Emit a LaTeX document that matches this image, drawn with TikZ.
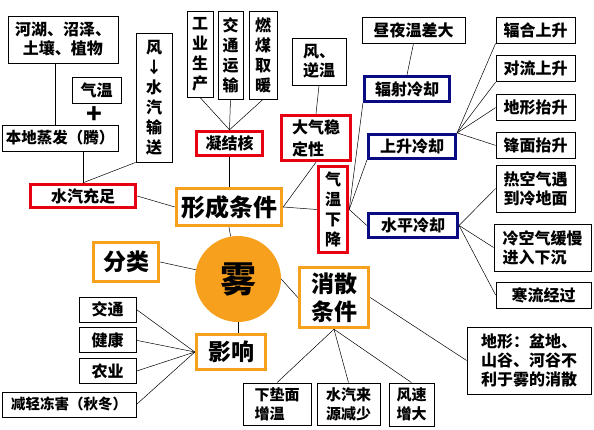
\documentclass[tikz,border=0pt]{standalone}
\usepackage{fontspec}
\setmainfont{Noto Sans CJK SC}
\usetikzlibrary{positioning}
\definecolor{fogred}{HTML}{E60012}
\definecolor{fognavy}{HTML}{0A0A82}
\definecolor{fogorange}{HTML}{F7A01E}

\begin{document}
\begin{tikzpicture}[
    x=1pt,y=-1pt,
    node distance=12pt and 12pt,
    every node/.append style={font=\bfseries},
    plainbox/.style={rectangle,draw=black,line width=0.8pt,fill=white,align=center,
      inner sep=1pt,font=\fontsize{16}{19}\selectfont\bfseries},
    redbox/.style={plainbox,draw=fogred,line width=3.4pt},
    bluebox/.style={plainbox,draw=fognavy,line width=3.2pt},
    orangebox/.style={plainbox,draw=fogorange,line width=3.4pt,font=\fontsize{23}{28}\selectfont\bfseries},
    colbox/.style={plainbox,font=\fontsize{16}{20}\selectfont\bfseries},
    lowbox/.style={plainbox,align=left,font=\fontsize{15}{19}\selectfont\bfseries},
    boxsize/.style 2 args={minimum width=#1,minimum height=#2},
    link/.style={black,line width=0.5pt},
  ]
  \useasboundingbox[fill=white] (0,0) rectangle (594,430);
  \node[plainbox,boxsize={110pt}{47pt}] (hupo) at (63,39.5) {河湖、沼泽、\\土壤、植物};
  \node[plainbox,boxsize={49pt}{26pt}] (qiwen) at (96.5,90) {气温};
  \node[font=\fontsize{26}{26}\selectfont\bfseries,inner sep=0pt] (plus) at (94,115) {+};
  \node[plainbox,boxsize={116pt}{26pt},font=\fontsize{15.5}{19}\selectfont\bfseries] (zhengfa) at (60,138) {本地蒸发（腾）};
  \node[colbox,boxsize={36pt}{129pt}] (feng) at (154,97.5) {风\\↓\\水\\汽\\输\\送};
  \node[redbox,boxsize={105pt}{23pt}] (shuiqi) at (83,196) {水汽充足};
  \node[colbox,boxsize={26pt}{86pt}] (gongye) at (200,54) {工\\业\\生\\产};
  \node[colbox,boxsize={25pt}{88pt}] (jiaotong) at (230.5,55) {交\\通\\运\\输};
  \node[colbox,boxsize={28pt}{88pt}] (ranmei) at (263,55) {燃\\煤\\取\\暖};
  \node[redbox,boxsize={66pt}{24pt}] (nijie) at (229.5,143.5) {凝结核};
  \node[plainbox,boxsize={54pt}{47pt}] (fengni) at (319,61.5) {风、\\逆温};
  \node[redbox,boxsize={69pt}{45pt},align=left,font=\fontsize{16}{22}\selectfont\bfseries] (wending) at (316,138) {大气稳\\定性};
  \node[redbox,boxsize={29pt}{86pt},font=\fontsize{16}{20}\selectfont\bfseries] (xiajiang) at (333,209.5) {气\\温\\下\\降};
  \node[orangebox,boxsize={105pt}{37pt},font=\fontsize{24}{28}\selectfont\bfseries] (xingcheng) at (229,207) {形成条件};
  \node[circle,fill=fogorange,minimum size=86pt,inner sep=0pt,font=\fontsize{36}{36}\selectfont\bfseries] (wu) at (238,279) {雾};
  \node[orangebox,boxsize={65pt}{39pt}] (fenlei) at (126,262) {分类};
  \node[orangebox,boxsize={69pt}{35pt}] (yingxiang) at (231,352) {影响};
  \node[plainbox,boxsize={57pt}{25pt}] (jt) at (107.5,309.5) {交通};
  \node[plainbox,boxsize={57pt}{25pt},below=5pt of jt] (jk) {健康};
  \node[plainbox,boxsize={57pt}{25pt},below=5pt of jk] (ny) {农业};
  \node[plainbox,boxsize={134pt}{25pt},font=\fontsize{14.5}{19}\selectfont\bfseries] (jq) at (69,404.5) {减轻冻害（秋冬）};
  \node[orangebox,boxsize={69pt}{60pt}] (xiaosan) at (334,297.5) {消散\\条件};
  \node[lowbox,boxsize={68pt}{42pt}] (xdm) at (277,404) {下垫面\\增温};
  \node[lowbox,boxsize={63pt}{42pt}] (sq) at (348.5,404) {水汽来\\源减少};
  \node[lowbox,boxsize={45pt}{43pt}] (fs) at (411.5,404.5) {风速\\增大};
  \node[plainbox,boxsize={124pt}{67pt},align=left] (dx) at (529,360.5) {地形：盆地、\\山谷、河谷不\\利于雾的消散};
  \node[plainbox,boxsize={103pt}{26pt}] (zhouye) at (413.5,30) {昼夜温差大};
  \node[bluebox,boxsize={85pt}{25pt}] (fushe) at (407,89) {辐射冷却};
  \node[bluebox,boxsize={87pt}{24pt}] (shangsheng) at (412,146.5) {上升冷却};
  \node[bluebox,boxsize={89pt}{24pt}] (shuiping) at (413,225.5) {水平冷却};
  \node[plainbox,boxsize={79pt}{26pt}] (fh) at (535.5,30) {辐合上升};
  \node[plainbox,boxsize={79pt}{26pt},below=of fh] (dl) {对流上升};
  \node[plainbox,boxsize={79pt}{26pt},below=of dl] (dxts) {地形抬升};
  \node[plainbox,boxsize={79pt}{26pt},below=11pt of dxts] (fm) {锋面抬升};
  \node[plainbox,boxsize={79pt}{47pt}] (rkq) at (535.5,188.5) {热空气遇\\到冷地面};
  \node[plainbox,boxsize={97pt}{47pt},align=left] (lkq) at (542.5,247.5) {冷空气缓慢\\进入下沉};
  \node[plainbox,boxsize={95pt}{26pt}] (hl) at (543.5,295) {寒流经过};
  \draw[link] ([xshift=-8pt]hupo.south) -- ([xshift=-8pt]hupo.south |- zhengfa.north);
  \draw[link] (shuiqi.north |- zhengfa.south) -- (shuiqi.north);
  \draw[link] (feng.south west) -- (shuiqi.north);
  \draw[link] (shuiqi.east) -- (xingcheng.west);
  \draw[link] (gongye.south) -- (nijie.north);
  \draw[link] (jiaotong.south) -- (nijie.north);
  \draw[link] (ranmei.south) -- (nijie.north);
  \draw[link] (nijie.south) -- (xingcheng.north -| nijie.south);
  \draw[link] (fengni.south) -- (wending.north);
  \draw[link] (wending.south) -- (xingcheng.east);
  \draw[link] (xingcheng.east) -- (xiajiang.west);
  \draw[link] (xingcheng.south) -- (wu);
  \draw[link] (fenlei.east) -- (wu);
  \draw[link] (wu.south) -- (wu.south |- yingxiang.north);
  \draw[link] (wu.east) -- (xiaosan.west);
  \foreach \side in {jt,jk,ny,jq}
    \draw[link] (\side.east) -- (yingxiang.west);
  \foreach \low in {xdm,sq,fs}
    \draw[link] (xiaosan.south) -- (\low.north);
  \draw[link] (xiaosan.east) -- (dx.west);
  \draw[link] (xiajiang.east) -- (fushe.south west);
  \draw[link] (xiajiang.east) -- (shangsheng.south west);
  \draw[link] (xiajiang.east) -- (shuiping.west);
  \draw[link] (zhouye.south) -- (fushe.north);
  \draw[link] (shangsheng.north east) -- (fh.south west);
  \draw[link] (shangsheng.north east) -- (dl.south west);
  \draw[link] (shangsheng.north east) -- (dxts.west);
  \draw[link] (shangsheng.north east) -- (fm.west);
  \draw[link] (shuiping.east) -- (rkq.west);
  \draw[link] (shuiping.east) -- (lkq.west);
  \draw[link] (shuiping.east) -- (hl.west);
\end{tikzpicture}
\end{document}
